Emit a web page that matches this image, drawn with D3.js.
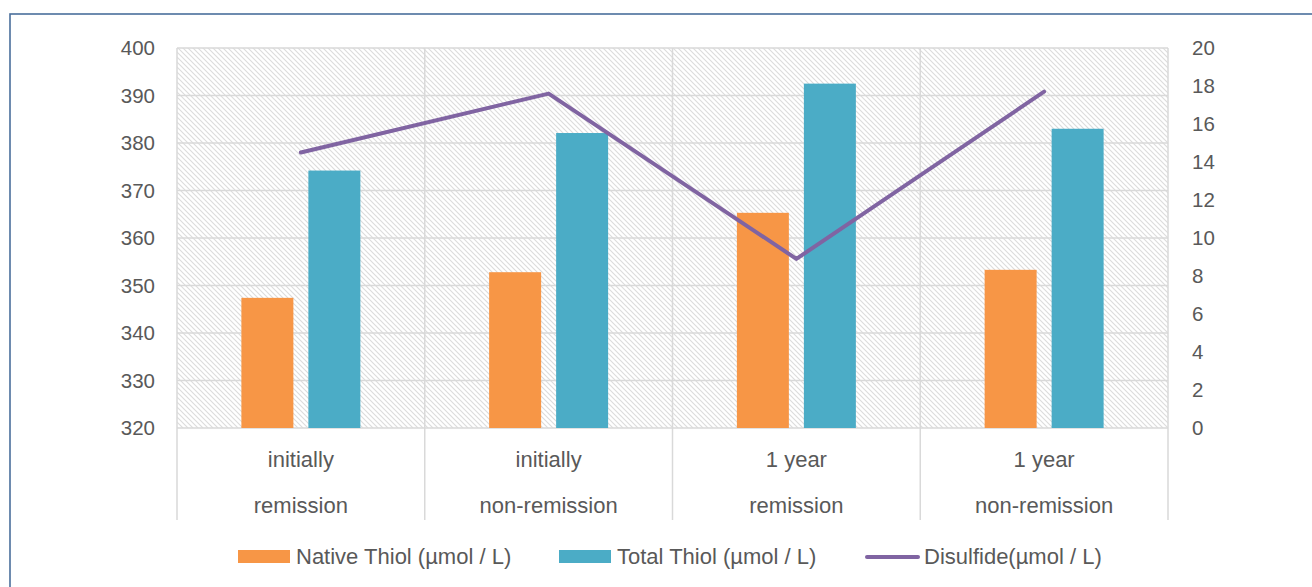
<!DOCTYPE html>
<html>
<head>
<meta charset="utf-8">
<script src="https://cdn.jsdelivr.net/npm/d3@7"></script>
<style>
  html, body { margin: 0; padding: 0; background: #fff; }
  svg { display: block; }
  text { font-family: "Liberation Sans", Arial, sans-serif; fill: #595959; }
</style>
</head>
<body>
<svg id="chart" width="1312" height="587"></svg>
<script>
// ---- data ----
const categoriesTop = ["initially", "initially", "1 year", "1 year"];
const categoriesBottom = ["remission", "non-remission", "remission", "non-remission"];
const nativeThiol = [347.4, 352.8, 365.3, 353.3];
const totalThiol = [374.2, 382.1, 392.5, 383.0];
const disulfide = [14.5, 17.6, 8.9, 17.7];
const leftTicks = [320, 330, 340, 350, 360, 370, 380, 390, 400];
const rightTicks = [0, 2, 4, 6, 8, 10, 12, 14, 16, 18, 20];
const seriesNames = ["Native Thiol (µmol / L)", "Total Thiol (µmol / L)", "Disulfide(µmol / L)"];
const colors = ["#F79646", "#4BACC6", "#8064A2"];

const svg = d3.select("#chart");
const plot = { left: 177, right: 1168, top: 48, bottom: 428 };
const catIdx = d3.range(categoriesTop.length);

// frame
svg.append("rect").attr("x", 10).attr("y", 14).attr("width", 1320).attr("height", 600)
  .attr("fill", "none").attr("stroke", "#4A6F9C").attr("stroke-width", 1.6);

// hatch pattern
const defs = svg.append("defs");
const pat = defs.append("pattern").attr("id", "hatch").attr("patternUnits", "userSpaceOnUse")
  .attr("width", 5).attr("height", 5);
pat.append("rect").attr("width", 5).attr("height", 5).attr("fill", "#fff");
pat.append("path").attr("d", "M-1,-1 L6,6 M-1,4 L1,6 M4,-1 L6,1")
  .attr("stroke", "#DCDCDC").attr("stroke-width", 1.1);

const x = d3.scaleBand().domain(catIdx).range([plot.left, plot.right]).padding(0);
const x1 = d3.scaleBand().domain([0, 1]).range([0, x.bandwidth()]).paddingInner(0.224).paddingOuter(0.961);
const yL = d3.scaleLinear().domain([320, 400]).range([plot.bottom, plot.top]);
const yR = d3.scaleLinear().domain([0, 20]).range([plot.bottom, plot.top]);

svg.append("rect").attr("x", plot.left).attr("y", plot.top)
  .attr("width", plot.right - plot.left).attr("height", plot.bottom - plot.top)
  .attr("fill", "url(#hatch)");

// gridlines
svg.append("g").selectAll("line").data(leftTicks).join("line")
  .attr("x1", plot.left).attr("x2", plot.right)
  .attr("y1", d => yL(d)).attr("y2", d => yL(d))
  .attr("stroke", "#D9D9D9").attr("stroke-width", 1.5);

// category dividers (vertical) incl. extension below
const divs = catIdx.map(i => x(i)).concat([plot.right]);
svg.append("g").selectAll("line").data(divs).join("line")
  .attr("x1", d => d).attr("x2", d => d)
  .attr("y1", plot.top).attr("y2", 520)
  .attr("stroke", "#D9D9D9").attr("stroke-width", 1.5);

// bars
const barData = [nativeThiol, totalThiol];
barData.forEach((vals, s) => {
  svg.append("g").selectAll("rect").data(vals).join("rect")
    .attr("x", (d, i) => x(i) + x1(s))
    .attr("width", x1.bandwidth())
    .attr("y", d => yL(d))
    .attr("height", d => plot.bottom - yL(d))
    .attr("fill", colors[s]);
});

// line
const line = d3.line().x((d, i) => x(i) + x.bandwidth() / 2).y(d => yR(d));
svg.append("path").datum(disulfide).attr("d", line)
  .attr("fill", "none").attr("stroke", colors[2]).attr("stroke-width", 4)
  .attr("stroke-linejoin", "round").attr("stroke-linecap", "round");

// axes
const tfs = 20.5;
const fs = 22;
const axL = svg.append("g").attr("transform", `translate(${plot.left},0)`)
  .call(d3.axisLeft(yL).tickValues(leftTicks).tickSize(0).tickPadding(22));
axL.select(".domain").remove();
axL.selectAll("text").style("font-size", tfs + "px").attr("fill", "#595959")
  .attr("font-family", "Liberation Sans, Arial, sans-serif");

const axR = svg.append("g").attr("transform", `translate(${plot.right},0)`)
  .call(d3.axisRight(yR).tickValues(rightTicks).tickSize(0).tickPadding(24));
axR.select(".domain").remove();
axR.selectAll("text").style("font-size", tfs + "px").attr("fill", "#595959")
  .attr("font-family", "Liberation Sans, Arial, sans-serif");

// category labels
const catG = svg.append("g");
catG.selectAll("text.top").data(categoriesTop).join("text").attr("class", "top")
  .attr("x", (d, i) => x(i) + x.bandwidth() / 2).attr("y", 467)
  .attr("text-anchor", "middle").style("font-size", fs + "px").text(d => d);
catG.selectAll("text.bot").data(categoriesBottom).join("text").attr("class", "bot")
  .attr("x", (d, i) => x(i) + x.bandwidth() / 2).attr("y", 513)
  .attr("text-anchor", "middle").style("font-size", fs + "px").text(d => d);

// legend
const legX = [238, 559, 865];
const leg = svg.append("g");
seriesNames.forEach((name, i) => {
  if (i < 2) {
    leg.append("rect").attr("x", legX[i]).attr("y", 550).attr("width", 52).attr("height", 13).attr("fill", colors[i]);
  } else {
    leg.append("line").attr("x1", legX[i] + 2).attr("x2", legX[i] + 53).attr("y1", 557).attr("y2", 557)
      .attr("stroke", colors[i]).attr("stroke-width", 4).attr("stroke-linecap", "round");
  }
  leg.append("text").attr("x", legX[i] + (i < 2 ? 58 : 59)).attr("y", 564)
    .style("font-size", fs + "px").text(name);
});
</script>
</body>
</html>
